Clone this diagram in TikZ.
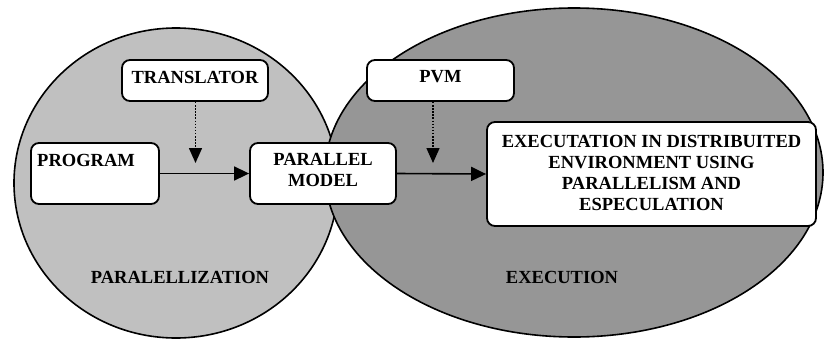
\documentclass[tikz,border=0pt]{standalone}
\usepackage{fontspec}
\setmainfont{Liberation Serif}
\usetikzlibrary{arrows.meta}

\definecolor{paralgray}{HTML}{C0C0C0}
\definecolor{execgray}{HTML}{969696}

\tikzset{
  stagebox/.style={draw=black, line width=1.8pt, fill=white, rounded corners=8pt, inner sep=0pt},
  boxtext/.style={font=\fontsize{18.5}{21}\selectfont\bfseries, align=center, inner sep=0pt},
  region/.style={draw=black, line width=1.6pt},
  flow/.style={line width=1.6pt, -{Triangle[length=15pt,width=14pt]}},
  hint/.style={line width=1.5pt, dash pattern=on 1.5pt off 1.6pt, -{Triangle[length=15pt,width=13pt]}},
}

\begin{document}
\begin{tikzpicture}[x=1pt, y=-1pt]
  \useasboundingbox (0,0) rectangle (824,340);

  % the two phases
  \draw[region, fill=paralgray] (176,183) ellipse [x radius=162, y radius=155];
  \draw[region, fill=execgray] (574,172.5) ellipse [x radius=249, y radius=164.5];

  % boxes
  \node[stagebox, minimum width=146pt, minimum height=41pt] (trans) at (195,80.5) {};
  \node[boxtext] (transtxt) at (195,77) {TRANSLATOR};

  \node[stagebox, minimum width=128pt, minimum height=61pt] (prog) at (95,173.5) {};
  \node[boxtext, anchor=west] (progtxt) at (37,160) {PROGRAM};

  \node[stagebox, minimum width=146pt, minimum height=61pt] (par) at (323,173.5) {};
  \node[boxtext] (partxt) at (323,170) {PARALLEL\\MODEL};

  \node[stagebox, minimum width=147pt, minimum height=41pt] (pvm) at (440.5,80.5) {};
  \node[boxtext] (pvmtxt) at (440.5,77) {PVM};

  \node[stagebox, minimum width=329pt, minimum height=104pt] (exec) at (651.5,174) {};
  \node[boxtext] (exectxt) at (651.5,173) {EXECUTATION IN DISTRIBUITED\\ENVIRONMENT USING\\PARALLELISM AND\\ESPECULATION};

  % phase labels
  \node[boxtext] (lblpar) at (180,277) {PARALELLIZATION};
  \node[boxtext] (lblexec) at (562,277) {EXECUTION};

  % main flow
  \draw[flow] (prog.east) -- (par.west);
  \draw[flow] (par.east) -- (exec.west);

  % tool hints
  \coordinate (transtip) at (195.5,163);
  \coordinate (pvmtip) at (433,163);
  \draw[hint] (trans.south -| transtip) -- (transtip);
  \draw[hint] (pvm.south -| pvmtip) -- (pvmtip);
\end{tikzpicture}
\end{document}
